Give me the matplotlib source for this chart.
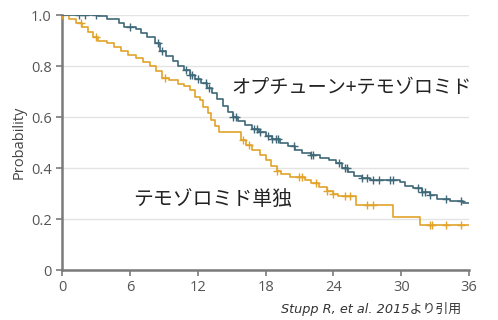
import matplotlib
matplotlib.use("Agg")
import matplotlib.pyplot as plt
import numpy as np

plt.rcParams['font.family'] = ['Open Sans', 'Noto Sans CJK JP', 'DejaVu Sans']

# step curves: time (months) and survival probability after each step
blue_t = [0, 3.2, 4.0, 5.0, 5.5, 6.5, 7.0, 7.5, 8.2, 8.7, 9.2, 9.8, 10.3, 10.8, 11.3,
          11.8, 12.3, 12.8, 13.3, 13.7, 14.2, 14.7, 15.1, 15.6, 16.2, 16.8, 17.4, 18.0,
          18.6, 19.3, 20.0, 20.6, 21.2, 22.0, 22.8, 23.6, 24.2, 24.8, 25.3, 25.8, 26.5,
          27.2, 29.9, 30.3, 31.0, 31.8, 32.5, 33.2, 34.3, 35.5, 36.0]
blue_s = [1.0, 0.995, 0.985, 0.97, 0.955, 0.945, 0.93, 0.915, 0.89, 0.86, 0.84, 0.82, 0.80,
          0.785, 0.765, 0.75, 0.735, 0.715, 0.695, 0.67, 0.645, 0.62, 0.60, 0.585, 0.57,
          0.555, 0.54, 0.525, 0.515, 0.50, 0.485, 0.47, 0.46, 0.45, 0.44, 0.43, 0.42, 0.40,
          0.385, 0.37, 0.36, 0.353, 0.345, 0.33, 0.32, 0.305, 0.295, 0.28, 0.27, 0.263, 0.263]

orange_t = [0, 0.6, 1.2, 1.8, 2.3, 2.7, 3.2, 4.0, 4.6, 5.2, 5.8, 6.5, 7.2, 7.8, 8.3, 8.8,
            9.5, 10.3, 10.8, 11.3, 11.8, 12.2, 12.5, 12.9, 13.2, 13.5, 13.9, 15.8, 16.3,
            16.8, 17.5, 18.0, 18.5, 19.0, 19.4, 20.2, 21.5, 22.0, 22.7, 23.4, 24.0, 24.4,
            26.0, 29.3, 31.7, 36.0]
orange_s = [1.0, 0.985, 0.97, 0.955, 0.935, 0.915, 0.90, 0.89, 0.875, 0.86, 0.845, 0.83,
            0.815, 0.80, 0.78, 0.755, 0.745, 0.73, 0.72, 0.705, 0.68, 0.665, 0.64, 0.615,
            0.59, 0.565, 0.54, 0.51, 0.49, 0.47, 0.45, 0.43, 0.41, 0.39, 0.375, 0.365,
            0.355, 0.34, 0.325, 0.31, 0.30, 0.29, 0.255, 0.21, 0.176, 0.176]

# censoring times
blue_cens = [1.5, 2.0, 3.0, 6.0, 8.5, 8.8, 11.0, 11.3, 11.5, 12.0, 12.7, 13.0, 15.1, 15.4,
             17.0, 17.2, 17.5, 18.2, 18.6, 18.9, 19.1, 20.5, 22.0, 22.2, 24.5, 25.0, 25.2,
             26.5, 27.0, 27.5, 28.0, 29.0, 29.3, 31.5, 31.8, 32.1, 32.5, 34.0, 35.3]
orange_cens = [0.0, 1.7, 3.0, 9.1, 16.0, 16.5, 19.0, 21.0, 21.2, 22.5, 23.4, 24.0, 25.0,
               25.5, 27.0, 27.5, 32.5, 32.7, 34.0, 35.3]

blue_c = '#3f6878'
orange_c = '#e2a32a'


def at(t, s, x):
    i = np.searchsorted(t, x, side='right') - 1
    return np.array(s)[i]


fig = plt.figure(figsize=(4.98, 3.2), dpi=100)
ax = fig.add_axes([0.1245, 0.156, 0.8175, 0.797])

ax.step(orange_t, orange_s, where='post', color=orange_c, lw=1.2, zorder=3)
ax.step(blue_t, blue_s, where='post', color=blue_c, lw=1.2, zorder=4)
ax.plot(orange_cens, at(orange_t, orange_s, orange_cens), '+', color=orange_c, ms=6, mew=1.0, zorder=3)
ax.plot(blue_cens, at(blue_t, blue_s, blue_cens), '+', color=blue_c, ms=6, mew=1.0, zorder=4)

ax.set_xlim(0, 36)
ax.set_ylim(0, 1.0)
ax.set_xticks([0, 6, 12, 18, 24, 30, 36])
ax.set_yticks([0, 0.2, 0.4, 0.6, 0.8, 1.0])
ax.set_yticklabels(['0', '0.2', '0.4', '0.6', '0.8', '1.0'])
ax.grid(axis='y', color='#e4e4e4', lw=1)
ax.set_axisbelow(True)
for sp in ['top', 'right']:
    ax.spines[sp].set_visible(False)
for sp in ['left', 'bottom']:
    ax.spines[sp].set_color('#7a7a7a')
    ax.spines[sp].set_linewidth(1.8)
ax.tick_params(colors='#7a7a7a', labelcolor='#555555', labelsize=10.5, length=4, width=1.2)
ax.set_ylabel('Probability', fontsize=10.5, color='#444444', labelpad=3)

jp = ['Noto Sans CJK JP', 'DejaVu Sans']
ax.text(15.0, 0.715, 'オプチューン+テモゾロミド', fontsize=13.8, color='#222222',
        va='center', family=jp)
ax.text(6.3, 0.275, 'テモゾロミド単独', fontsize=14.3, color='#222222', va='center', family=jp)
fig.text(0.925, 0.035, 'Stupp R, et al. 2015より引用', fontsize=9.3, style='italic',
         color='#333333', ha='right', va='center', family=['DejaVu Sans', 'Noto Sans CJK JP'])

fig.savefig('out.png', dpi=100)
